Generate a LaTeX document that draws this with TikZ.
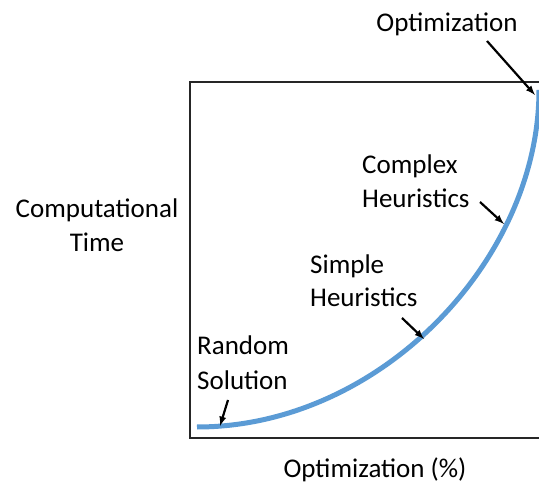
\documentclass[tikz,border=0pt]{standalone}
\usepackage{fontspec}
\setmainfont{Carlito}
\definecolor{curveblue}{RGB}{91,155,213}
\tikzset{
    lbl/.style={inner sep=0pt, font=\fontsize{27}{34}\selectfont},
    ptr/.style={-latex, line width=2.2pt},
    trade/.style={curveblue, line width=5pt}
}
\begin{document}
\begin{tikzpicture}[x=1pt, y=-1pt]
        \useasboundingbox (0, 0) rectangle (539, 484);
        \clip (0, 0) rectangle (539, 484);

        \draw[line width=2pt, black!85] (190, 82) rectangle (560, 438);
        \draw[trade] (197, 427) .. controls (380, 427) and (539, 260) .. (539, 90);

        \node (opt)  [lbl, anchor=base] at (447, 32) {Optimization};
        \node (cpx)  [lbl, anchor=base west] at (362, 174) {Complex};
        \node (cpx2) [lbl, anchor=base west] at (362, 208) {Heuristics};
        \node (smp)  [lbl, anchor=base west] at (310, 273) {Simple};
        \node (smp2) [lbl, anchor=base west] at (310, 307) {Heuristics};
        \node (rnd)  [lbl, anchor=base west] at (197, 355) {Random};
        \node (rnd2) [lbl, anchor=base west] at (197, 389) {Solution};
        \node (ctm)  [lbl, anchor=base] at (97, 218) {Computational};
        \node (ctm2) [lbl, anchor=base] at (97, 252) {Time};
        \node (xlab) [lbl, anchor=base] at (375, 477) {Optimization (\%)};

        \coordinate (optA) at (487, 41);   \coordinate (optB) at (535, 95);
        \coordinate (cpxA) at (480, 202);  \coordinate (cpxB) at (504, 224);
        \coordinate (smpA) at (402, 318);  \coordinate (smpB) at (424, 339);
        \coordinate (rndA) at (228, 400);  \coordinate (rndB) at (220, 426);

        \draw[ptr] (optA) -- (optB);
        \draw[ptr] (cpxA) -- (cpxB);
        \draw[ptr] (smpA) -- (smpB);
        \draw[ptr] (rndA) -- (rndB);
\end{tikzpicture}
\end{document}
